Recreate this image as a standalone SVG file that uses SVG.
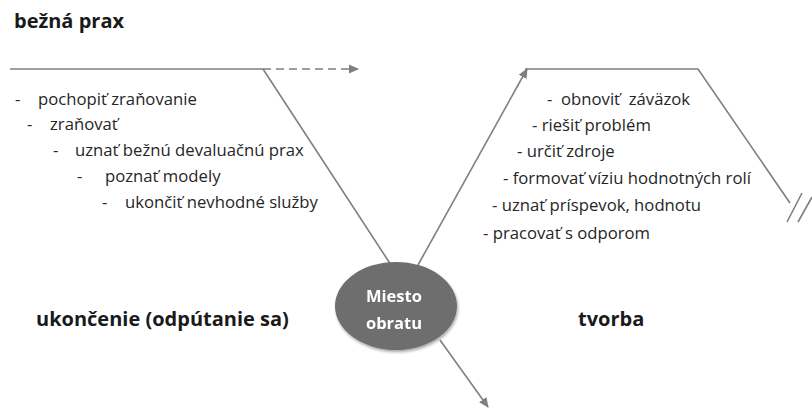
<svg xmlns="http://www.w3.org/2000/svg" width="812" height="409" viewBox="0 0 812 409">
<defs>
<marker id="ah" markerWidth="10" markerHeight="10" refX="9" refY="5" orient="auto" markerUnits="userSpaceOnUse"><path d="M0,0.5 L10,5 L0,9.5 Z" fill="#7f7f7f"/></marker>
<filter id="sh" x="-20%" y="-20%" width="140%" height="140%"><feGaussianBlur in="SourceAlpha" stdDeviation="1.5"/><feOffset dx="1" dy="1.5"/><feComponentTransfer><feFuncA type="linear" slope="0.35"/></feComponentTransfer><feMerge><feMergeNode/><feMergeNode in="SourceGraphic"/></feMerge></filter>
</defs>
<style>
.ln{stroke:#7f7f7f;stroke-width:1.6;fill:none}
.t{font-family:"Open Sans","Noto Sans",sans-serif;font-size:16.7px;fill:#262626}
.h{font-family:"Open Sans","Noto Sans",sans-serif;font-size:20px;font-weight:bold;fill:#1a1a1a}
.n{font-family:"Open Sans","Noto Sans",sans-serif;font-size:16.5px;font-weight:bold;fill:#ffffff;text-anchor:middle}
</style>
<rect width="812" height="409" fill="#ffffff"/>
<g id="connectors">
<path class="ln" d="M10,69 L263,69"/>
<path class="ln" d="M263,69 L358,69" stroke-dasharray="8,5" marker-end="url(#ah)"/>
<path class="ln" d="M263,69 L391,265"/>
<path class="ln" d="M418,265 L527,69" marker-end="url(#ah)"/>
<path class="ln" d="M525,69 L698,69 L790,203"/>
<path class="ln" d="M802,193 L787,222 M812,197 L798,222"/>
<path class="ln" d="M440,340 L488,407" marker-end="url(#ah)"/>
</g>
<g id="title"><text class="h" x="14" y="28">bežná prax</text></g>
<g id="left-list">
<text class="t" x="15" y="105">-</text><text class="t" x="38" y="105">pochopiť zraňovanie</text>
<text class="t" x="27" y="130">-</text><text class="t" x="50" y="130">zraňovať</text>
<text class="t" x="53" y="156">-</text><text class="t" x="75" y="156">uznať bežnú devaluačnú prax</text>
<text class="t" x="77" y="182">-</text><text class="t" x="105" y="182">poznať modely</text>
<text class="t" x="102" y="208">-</text><text class="t" x="125" y="208">ukončiť nevhodné služby</text>
</g>
<g id="right-list">
<text class="t" x="547" y="105" xml:space="preserve">-  obnoviť  záväzok</text>
<text class="t" x="532" y="131">- riešiť problém</text>
<text class="t" x="517" y="157">- určiť zdroje</text>
<text class="t" x="503" y="184">- formovať víziu hodnotných rolí</text>
<text class="t" x="492" y="211">- uznať príspevok, hodnotu</text>
<text class="t" x="483" y="239">- pracovať s odporom</text>
</g>
<g id="label-left"><text class="h" x="36" y="326">ukončenie (odpútanie sa)</text></g>
<g id="label-right"><text class="h" x="578" y="326">tvorba</text></g>
<g id="node-miesto" filter="url(#sh)">
<ellipse cx="396" cy="306" rx="61" ry="44" fill="#6e6e6e"/>
<text class="n" x="394" y="302">Miesto</text>
<text class="n" x="394" y="329">obratu</text>
</g>
</svg>
